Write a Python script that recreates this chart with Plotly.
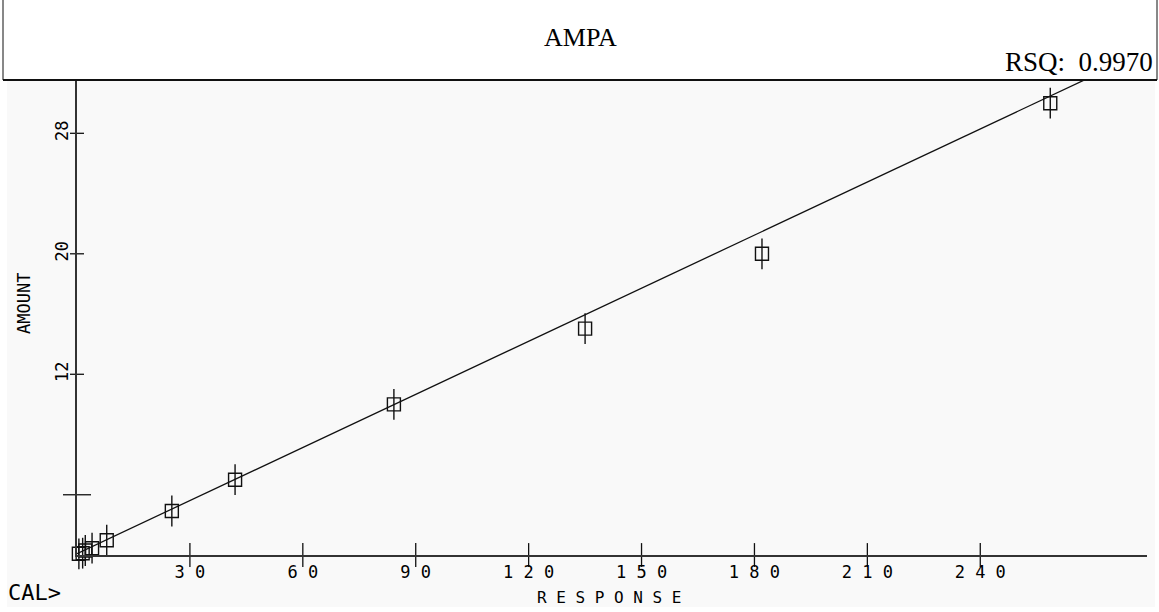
import plotly.graph_objects as go

# ---------------- data ----------------
response = [0.5, 1.5, 2.2, 4.0, 7.9, 25.2, 42.0, 84.2, 135.0, 182.0, 258.6]
amount = [0.08, 0.12, 0.3, 0.45, 0.98, 2.92, 5.0, 10.0, 15.03, 20.0, 30.0]
fit_slope = 0.1175
fit_intercept = 0.09
x_ticks = [30, 60, 90, 120, 150, 180, 210, 240]
x_tick_labels = ["3 0", "6 0", "9 0", "1 2 0", "1 5 0", "1 8 0", "2 1 0", "2 4 0"]
y_ticks = [4, 12, 20, 28]
y_tick_labels = ["", "12", "20", "28"]
title_text = "AMPA"
rsq_text = "RSQ:  0.9970"
x_title = "R E S P O N S E"
y_title = "AMOUNT"
prompt_text = "CAL>"

# ---------------- layout geometry ----------------
W, H = 1159, 612
L, R, T, B = 77, 12, 80, 57
x_max = 284.3
y_max = 31.54
pw = W - L - R
ph = H - T - B


def px_x(p):
    return (p - L) / pw


def px_y(p):
    return (H - B - p) / ph


mono = "DejaVu Sans Mono"
serif = "Liberation Serif"
ink = "#111111"

fit_x = [0, x_max]
fit_y = [fit_intercept + fit_slope * v for v in fit_x]

fig = go.Figure()

# regression line
fig.add_trace(go.Scatter(x=fit_x, y=fit_y, mode="lines",
                         line=dict(color=ink, width=1.3),
                         hoverinfo="skip", showlegend=False))
# markers: open squares with vertical bar
fig.add_trace(go.Scatter(x=response, y=amount, mode="markers",
                         marker=dict(symbol="square-open", size=13,
                                     line=dict(color=ink, width=1.4), color=ink),
                         cliponaxis=False, showlegend=False))
fig.add_trace(go.Scatter(x=response, y=amount, mode="markers",
                         marker=dict(symbol="line-ns", size=22,
                                     line=dict(color=ink, width=1.4)),
                         cliponaxis=False, showlegend=False))
# crossing tick marks on x axis
fig.add_trace(go.Scatter(x=x_ticks, y=[0] * len(x_ticks), mode="markers",
                         marker=dict(symbol="line-ns", size=17,
                                     line=dict(color=ink, width=1.3)),
                         cliponaxis=False, hoverinfo="skip", showlegend=False))
# crossing tick marks on y axis
fig.add_trace(go.Scatter(x=[0] * (len(y_ticks) - 1), y=y_ticks[1:], mode="markers",
                         marker=dict(symbol="line-ew", size=10,
                                     line=dict(color=ink, width=1.3)),
                         cliponaxis=False, hoverinfo="skip", showlegend=False))
fig.add_trace(go.Scatter(x=[0], y=y_ticks[:1], mode="markers",
                         marker=dict(symbol="line-ew", size=20,
                                     line=dict(color=ink, width=1.3)),
                         cliponaxis=False, hoverinfo="skip", showlegend=False))

shapes = [
    # light grey plotting background
    dict(type="rect", xref="paper", yref="paper", layer="below",
         x0=px_x(7), x1=px_x(1155), y0=px_y(607), y1=px_y(80),
         fillcolor="#f9f9f9", line=dict(width=0)),
    # header frame
    dict(type="line", xref="paper", yref="paper",
         x0=px_x(3), x1=px_x(1157), y0=px_y(80), y1=px_y(80),
         line=dict(color=ink, width=2)),
    dict(type="line", xref="paper", yref="paper",
         x0=px_x(3), x1=px_x(3), y0=px_y(0), y1=px_y(80),
         line=dict(color=ink, width=1)),
    dict(type="line", xref="paper", yref="paper",
         x0=px_x(1157), x1=px_x(1157), y0=px_y(0), y1=px_y(80),
         line=dict(color=ink, width=1)),
]

annotations = [
    dict(text=title_text, xref="paper", yref="paper", x=px_x(580), y=px_y(38),
         showarrow=False, font=dict(family=serif, size=26, color="#000"),
         xanchor="center", yanchor="middle"),
    dict(text=rsq_text, xref="paper", yref="paper", x=px_x(1155), y=px_y(62),
         showarrow=False, font=dict(family=serif, size=27, color="#000"),
         xanchor="right", yanchor="middle"),
    dict(text=x_title, xref="paper", yref="paper", x=px_x(609), y=px_y(597),
         showarrow=False, font=dict(family=mono, size=16, color="#000"),
         xanchor="center", yanchor="middle"),
    dict(text=y_title, xref="paper", yref="paper", x=px_x(24), y=px_y(304),
         showarrow=False, textangle=-90,
         font=dict(family=mono, size=17, color="#000"),
         xanchor="center", yanchor="middle"),
    dict(text=prompt_text, xref="paper", yref="paper", x=px_x(6), y=px_y(592),
         showarrow=False, font=dict(family=mono, size=22, color="#000"),
         xanchor="left", yanchor="middle"),
]

fig.update_layout(
    width=W, height=H,
    margin=dict(l=L, r=R, t=T, b=B, pad=0),
    paper_bgcolor="white",
    plot_bgcolor="rgba(0,0,0,0)",
    showlegend=False,
    shapes=shapes,
    annotations=annotations,
    xaxis=dict(range=[0, x_max], showgrid=False, zeroline=False,
               showline=True, linecolor="#333", linewidth=1.5,
               tickmode="array", tickvals=x_ticks, ticktext=x_tick_labels,
               ticks="", tickfont=dict(family=mono, size=17, color="#000"),
               ticklabelstandoff=1),
    yaxis=dict(range=[0, y_max], showgrid=False, zeroline=False,
               showline=True, linecolor="#333", linewidth=1.5,
               tickmode="array", tickvals=y_ticks, ticktext=y_tick_labels,
               ticks="", tickangle=-90,
               tickfont=dict(family=mono, size=17, color="#000"),
               ticklabelstandoff=0),
)

fig.write_html("out.html", config={"displayModeBar": False},
               post_script="document.body.style.margin='0';document.body.style.padding='0';")
